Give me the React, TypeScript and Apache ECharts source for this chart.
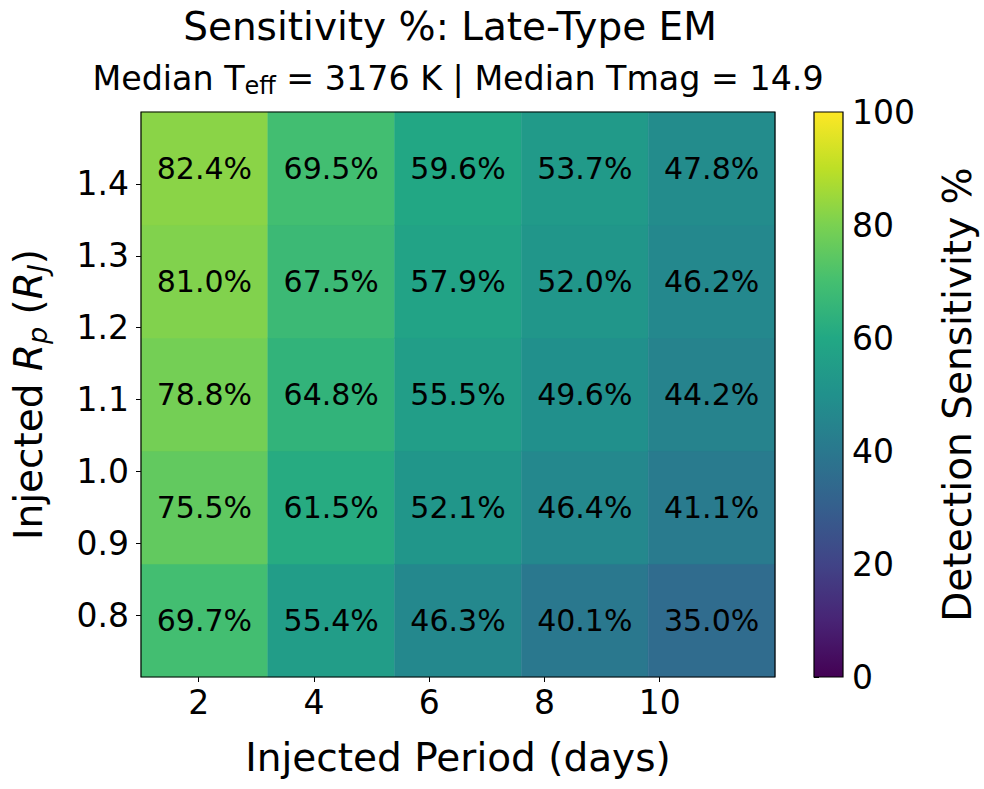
import React, { useEffect, useRef } from "react";
import * as echarts from "echarts";

// ---- data ----
const periodEdges = [1.0, 3.2, 5.4, 7.6, 9.8, 12.0];
const radiusEdges = [0.7143, 0.8714, 1.0286, 1.1857, 1.3429, 1.5];
// rows from smallest radius (bottom) to largest (top); columns = period bins
const sensitivityRows = [
  [69.7, 55.4, 46.3, 40.1, 35.0],
  [75.5, 61.5, 52.1, 46.4, 41.1],
  [78.8, 64.8, 55.5, 49.6, 44.2],
  [81.0, 67.5, 57.9, 52.0, 46.2],
  [82.4, 69.5, 59.6, 53.7, 47.8],
];
const xTicks = [2, 4, 6, 8, 10];
const yTicks = [0.8, 0.9, 1.0, 1.1, 1.2, 1.3, 1.4];
const cbarRange = [0, 100];

const titleText = "Sensitivity %: Late-Type EM";
const subtitleText = "Median T{sub|eff} = 3176 K | Median Tmag = 14.9";

const viridis = [
  "#440154", "#482475", "#414487", "#355f8d", "#2a788e", "#21918c",
  "#22a884", "#44bf70", "#7ad151", "#bddf26", "#fde725",
];

const FONT = "DejaVu Sans";

export default function App() {
  const ref = useRef<HTMLDivElement>(null);
  useEffect(() => {
    if (!ref.current) return;
    const chart = echarts.init(ref.current, undefined, { renderer: "svg" });

    const cells: number[][] = [];
    sensitivityRows.forEach((row, r) => {
      row.forEach((v, c) => {
        cells.push([periodEdges[c], periodEdges[c + 1], radiusEdges[r], radiusEdges[r + 1], v]);
      });
    });

    const frame = {
      show: true,
      borderColor: "#000",
      borderWidth: 1.2,
      backgroundColor: "transparent",
      z: 10,
      containLabel: false,
      outerBoundsMode: "none",
    };

    chart.setOption({
      animation: false,
      backgroundColor: "#fff",
      title: [
        {
          text: titleText,
          left: 450,
          top: 7,
          textAlign: "center",
          padding: 0,
          textStyle: { fontSize: 39, fontWeight: "normal", fontFamily: FONT, color: "#000" },
        },
        {
          text: subtitleText,
          left: 458,
          top: 58,
          textAlign: "center",
          padding: 0,
          textStyle: {
            fontSize: 33.3,
            fontWeight: "normal",
            fontFamily: FONT,
            color: "#000",
            lineHeight: 40,
            rich: {
              sub: { fontSize: 24, lineHeight: 24, verticalAlign: "bottom", fontFamily: FONT, color: "#000" },
            },
          },
        },
      ],
      grid: [
        { left: 141, top: 112, width: 634, height: 565, ...frame },
        { left: 814, top: 112, width: 29, height: 565, ...frame },
      ],
      visualMap: {
        show: false,
        type: "continuous",
        min: cbarRange[0],
        max: cbarRange[1],
        dimension: 4,
        seriesIndex: 0,
        inRange: { color: viridis },
      },
      xAxis: [
        {
          type: "value",
          gridIndex: 0,
          min: periodEdges[0],
          max: periodEdges[periodEdges.length - 1],
          name: "Injected Period (days)",
          nameLocation: "middle",
          nameGap: 61,
          nameTextStyle: { fontSize: 39, fontFamily: FONT, color: "#000" },
          splitLine: { show: false },
          axisLine: { show: false },
          axisTick: { show: true, customValues: xTicks, length: 5, lineStyle: { color: "#000", width: 1 } },
          axisLabel: {
            customValues: xTicks,
            margin: 9,
            fontSize: 33,
            fontFamily: FONT,
            color: "#000",
          },
        },
        {
          type: "value",
          gridIndex: 1,
          min: 0,
          max: 1,
          show: false,
        },
      ],
      yAxis: [
        {
          type: "value",
          gridIndex: 0,
          min: radiusEdges[0],
          max: radiusEdges[radiusEdges.length - 1],
          name: "Injected {it|R}{sub|p} ({it|R}{sub|J})",
          nameLocation: "middle",
          nameGap: 90,
          nameRotate: 90,
          nameTextStyle: {
            fontSize: 39,
            fontFamily: FONT,
            color: "#000",
            lineHeight: 46,
            rich: {
              it: { fontSize: 39, fontStyle: "italic", fontFamily: FONT, color: "#000", lineHeight: 46 },
              sub: { fontSize: 27, fontStyle: "italic", fontFamily: FONT, color: "#000", lineHeight: 27, verticalAlign: "bottom" },
            },
          },
          splitLine: { show: false },
          axisLine: { show: false },
          axisTick: { show: true, customValues: yTicks, length: 5, lineStyle: { color: "#000", width: 1 } },
          axisLabel: {
            customValues: yTicks,
            formatter: (v: number) => v.toFixed(1),
            margin: 12,
            fontSize: 33,
            fontFamily: FONT,
            color: "#000",
          },
        },
        {
          type: "value",
          gridIndex: 1,
          position: "right",
          min: cbarRange[0],
          max: cbarRange[1],
          interval: 20,
          name: "Detection Sensitivity %",
          nameLocation: "middle",
          nameRotate: 90,
          nameGap: 95,
          nameTextStyle: { fontSize: 39, fontFamily: FONT, color: "#000" },
          splitLine: { show: false },
          axisLine: { show: false },
          axisTick: { show: true, length: 5, lineStyle: { color: "#000", width: 1 } },
          axisLabel: { margin: 9, fontSize: 33, fontFamily: FONT, color: "#000" },
        },
      ],
      series: [
        {
          type: "custom",
          xAxisIndex: 0,
          yAxisIndex: 0,
          encode: { x: [0, 1], y: [2, 3] },
          data: cells,
          renderItem: (params: any, api: any) => {
            const x0 = api.value(0);
            const x1 = api.value(1);
            const y0 = api.value(2);
            const y1 = api.value(3);
            const v = api.value(4);
            const tl = api.coord([x0, y1]);
            const br = api.coord([x1, y0]);
            const color = api.visual("color");
            return {
              type: "group",
              children: [
                {
                  type: "rect",
                  shape: { x: tl[0], y: tl[1], width: br[0] - tl[0], height: br[1] - tl[1] },
                  style: { fill: color, stroke: color, lineWidth: 0.5 },
                },
                {
                  type: "text",
                  x: (tl[0] + br[0]) / 2,
                  y: (tl[1] + br[1]) / 2,
                  style: {
                    text: v.toFixed(1) + "%",
                    fill: "#000",
                    fontSize: 30,
                    fontFamily: FONT,
                    align: "center",
                    verticalAlign: "middle",
                  },
                },
              ],
            };
          },
        },
        {
          type: "custom",
          xAxisIndex: 1,
          yAxisIndex: 1,
          encode: { y: [0, 1] },
          data: [cbarRange],
          renderItem: (params: any, api: any) => {
            const top = api.coord([0, api.value(1)]);
            const bottom = api.coord([1, api.value(0)]);
            const stops = viridis.map((c, i) => ({ offset: i / (viridis.length - 1), color: c }));
            return {
              type: "rect",
              shape: { x: top[0], y: top[1], width: bottom[0] - top[0], height: bottom[1] - top[1] },
              style: { fill: new echarts.graphic.LinearGradient(0, 1, 0, 0, stops) },
            };
          },
        },
      ],
    });

    return () => chart.dispose();
  }, []);

  return (
    <div
      ref={ref}
      style={{ position: "absolute", left: 0, top: 0, width: 984, height: 789 }}
    />
  );
}
